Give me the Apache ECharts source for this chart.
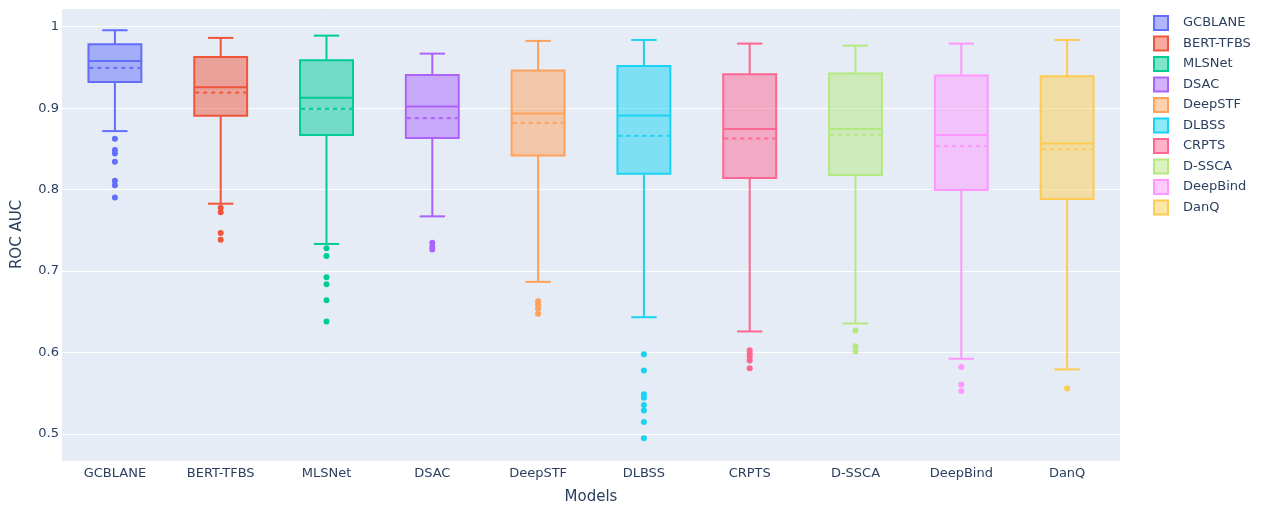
<!DOCTYPE html>
<html><head><meta charset="utf-8">
<script src="https://cdn.jsdelivr.net/npm/echarts@6/dist/echarts.min.js"></script>
<style>html,body{margin:0;padding:0;background:#fff}#c{width:1262px;height:510px}</style>
</head><body><div id="c"></div>
<script>
const categories = ['GCBLANE','BERT-TFBS','MLSNet','DSAC','DeepSTF','DLBSS','CRPTS','D-SSCA','DeepBind','DanQ'];
const colors = ['#636efa','#EF553B','#00cc96','#ab63fa','#FFA15A','#19d3f3','#FF6692','#B6E880','#FF97FF','#FECB52'];
const upperWhisker = [0.9956,0.9862,0.9890,0.9669,0.9825,0.9837,0.9792,0.9767,0.9792,0.9837];
const q3Values     = [0.9784,0.9629,0.9588,0.9408,0.9461,0.9518,0.9417,0.9424,0.9400,0.9392];
const medianValues = [0.9580,0.9257,0.9126,0.9020,0.8934,0.8909,0.8743,0.8743,0.8669,0.8566];
const meanValues   = [0.9494,0.9191,0.8992,0.8877,0.8820,0.8660,0.8627,0.8673,0.8534,0.8497];
const q1Values     = [0.9322,0.8906,0.8669,0.8632,0.8419,0.8195,0.8142,0.8179,0.7995,0.7885];
const lowerWhisker = [0.8718,0.7827,0.7333,0.7672,0.6868,0.6434,0.6259,0.6357,0.5924,0.5793];
const outliers = [
  [0.8624,0.8485,0.8444,0.8342,0.8109,0.8052,0.7904],
  [0.7778,0.7721,0.7468,0.7386],
  [0.7279,0.7186,0.6924,0.6838,0.6642,0.6381],
  [0.7347,0.7300,0.7264],
  [0.6630,0.6590,0.6540,0.6475],
  [0.5980,0.5780,0.5487,0.5446,0.5355,0.5290,0.5147,0.4947],
  [0.6029,0.5989,0.5950,0.5903,0.5806],
  [0.6271,0.6078,0.6017],
  [0.5822,0.5609,0.5527],
  [0.5560]
];

function rgba(hex, a) {
  const n = parseInt(hex.slice(1), 16);
  return 'rgba(' + ((n >> 16) & 255) + ',' + ((n >> 8) & 255) + ',' + (n & 255) + ',' + a + ')';
}
const FONT = '"DejaVu Sans", Verdana, sans-serif';
const TXT = '#2a3f5f';

function makeRender(color) {
  return function (params, api) {
    const x = api.value(0);
    const pMin = api.coord([x, api.value(1)]);
    const pQ1 = api.coord([x, api.value(2)]);
    const pMed = api.coord([x, api.value(3)]);
    const pQ3 = api.coord([x, api.value(4)]);
    const pMax = api.coord([x, api.value(5)]);
    const pMean = api.coord([x, api.value(6)]);
    const band = api.size([1, 0])[0];
    const cx = pMed[0];
    const hw = band * 0.25;
    const cw = band * 0.12;
    const ls = { stroke: color, lineWidth: 2, fill: null };
    return {
      type: 'group',
      children: [
        { type: 'line', shape: { x1: cx, y1: pQ3[1], x2: cx, y2: pMax[1] }, style: ls },
        { type: 'line', shape: { x1: cx, y1: pQ1[1], x2: cx, y2: pMin[1] }, style: ls },
        { type: 'line', shape: { x1: cx - cw, y1: pMax[1], x2: cx + cw, y2: pMax[1] }, style: ls },
        { type: 'line', shape: { x1: cx - cw, y1: pMin[1], x2: cx + cw, y2: pMin[1] }, style: ls },
        { type: 'rect', shape: { x: cx - hw, y: pQ3[1], width: 2 * hw, height: pQ1[1] - pQ3[1] },
          style: { fill: rgba(color, 0.5), stroke: color, lineWidth: 2 } },
        { type: 'line', shape: { x1: cx - hw, y1: pMed[1], x2: cx + hw, y2: pMed[1] }, style: ls },
        { type: 'line', shape: { x1: cx - hw + 1, y1: pMean[1], x2: cx + hw - 1, y2: pMean[1] },
          style: { stroke: color, lineWidth: 2, fill: null, lineDash: [4, 4] } }
      ]
    };
  };
}

const series = [];
categories.forEach((name, i) => {
  series.push({
    type: 'custom', name: name,
    renderItem: makeRender(colors[i]),
    itemStyle: { color: rgba(colors[i], 0.5), borderColor: colors[i] },
    encode: { x: 0, y: [1, 2, 3, 4, 5, 6] },
    data: [[i, lowerWhisker[i], q1Values[i], medianValues[i], q3Values[i], upperWhisker[i], meanValues[i]]],
    z: 2
  });
  series.push({
    type: 'scatter', name: name,
    symbol: 'circle', symbolSize: 6,
    itemStyle: { color: colors[i], opacity: 1 },
    data: outliers[i].map(v => [i, v]),
    z: 3
  });
});

const chart = echarts.init(document.getElementById('c'));
chart.setOption({
  animation: false,
  textStyle: { fontFamily: FONT },
  grid: { left: 62, right: 142, top: 8, bottom: 48, show: true, backgroundColor: '#E5ECF6', borderWidth: 0 },
  legend: {
    orient: 'vertical', left: 1148, top: 10,
    itemWidth: 14, itemHeight: 14, itemGap: 4.5,
    textStyle: { color: TXT, fontSize: 13, fontFamily: FONT, padding: [0, 0, 0, 10] },
    data: categories.map((n, i) => ({
      name: n, icon: 'rect',
      itemStyle: { color: rgba(colors[i], 0.5), borderColor: colors[i], borderWidth: 2 }
    }))
  },
  xAxis: {
    type: 'category', data: categories,
    axisLine: { show: false }, axisTick: { show: false }, splitLine: { show: false },
    axisLabel: { color: TXT, fontSize: 13, fontFamily: FONT, margin: 6 },
    name: 'Models', nameLocation: 'middle', nameGap: 29,
    nameTextStyle: { color: TXT, fontSize: 15, fontFamily: FONT }
  },
  yAxis: {
    type: 'value', min: 0.4669, max: 1.0229, splitNumber: 5,
    axisLine: { show: false }, axisTick: { show: false },
    splitLine: { show: true, lineStyle: { color: '#ffffff', width: 1 } },
    axisLabel: {
      color: TXT, fontSize: 13, fontFamily: FONT, margin: 3,
      formatter: v => (Math.abs(v * 10 - Math.round(v * 10)) < 1e-6 ? String(+v.toFixed(1)) : '')
    },
    name: 'ROC AUC', nameLocation: 'middle', nameGap: 37,
    nameTextStyle: { color: TXT, fontSize: 15, fontFamily: FONT }
  },
  series: series
});
</script>
</body></html>
